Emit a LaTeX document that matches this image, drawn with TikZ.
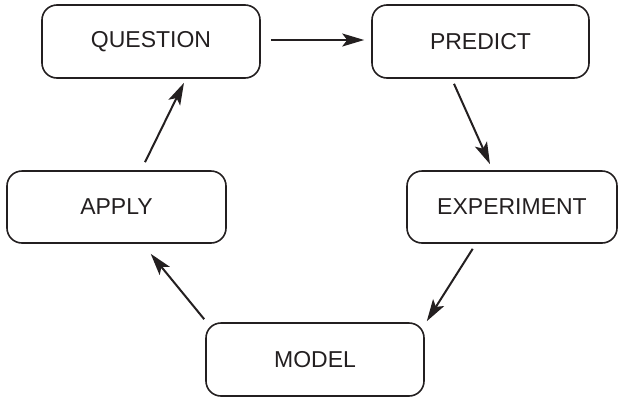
\documentclass[tikz,border=0pt]{standalone}
\usepackage{fontspec}
\setmainfont{Liberation Sans}
\usetikzlibrary{arrows.meta,calc}
\definecolor{ink}{HTML}{231F20}
\begin{document}
\begin{tikzpicture}[x=1pt,y=-1pt,
  box/.style={draw=ink, line width=1.6pt, rounded corners=15pt, minimum width=218pt, minimum height=73pt, inner sep=0pt, font=\fontsize{23}{27}\selectfont, text=ink},
  flow/.style={draw=ink, line width=2pt, -{Stealth[length=22pt,width=13pt,inset=5pt]}}]
\useasboundingbox (0,0) rectangle (618,397);
\node[box] (Q) at (151,41.5) {QUESTION};
\node[box, minimum width=217pt] (P) at (480.5,41.5) {PREDICT};
\node[box, minimum width=219pt, minimum height=72pt] (A) at (116.5,207) {APPLY};
\node[box, minimum width=210pt, minimum height=72pt] (E) at (512,207) {EXPERIMENT};
\node[box] (M) at (315,359.5) {MODEL};
\draw[flow] ($(Q.east)+(10,-1.5)$) -- ($(P.west)+(-7,-1.5)$);
\draw[flow] ($(P.south)+(-26.5,5)$) -- ($(E.north)+(-22,-6)$);
\draw[flow] ($(E.south)+(-39.3,5)$) -- ($(M.north east)+(2,-1)$);
\draw[flow] ($(M.north west)+(-1,-3)$) -- ($(A.south)+(34.2,10)$);
\draw[flow] ($(A.north)+(28.5,-8)$) -- ($(Q.south)+(33,4)$);
\end{tikzpicture}
\end{document}
